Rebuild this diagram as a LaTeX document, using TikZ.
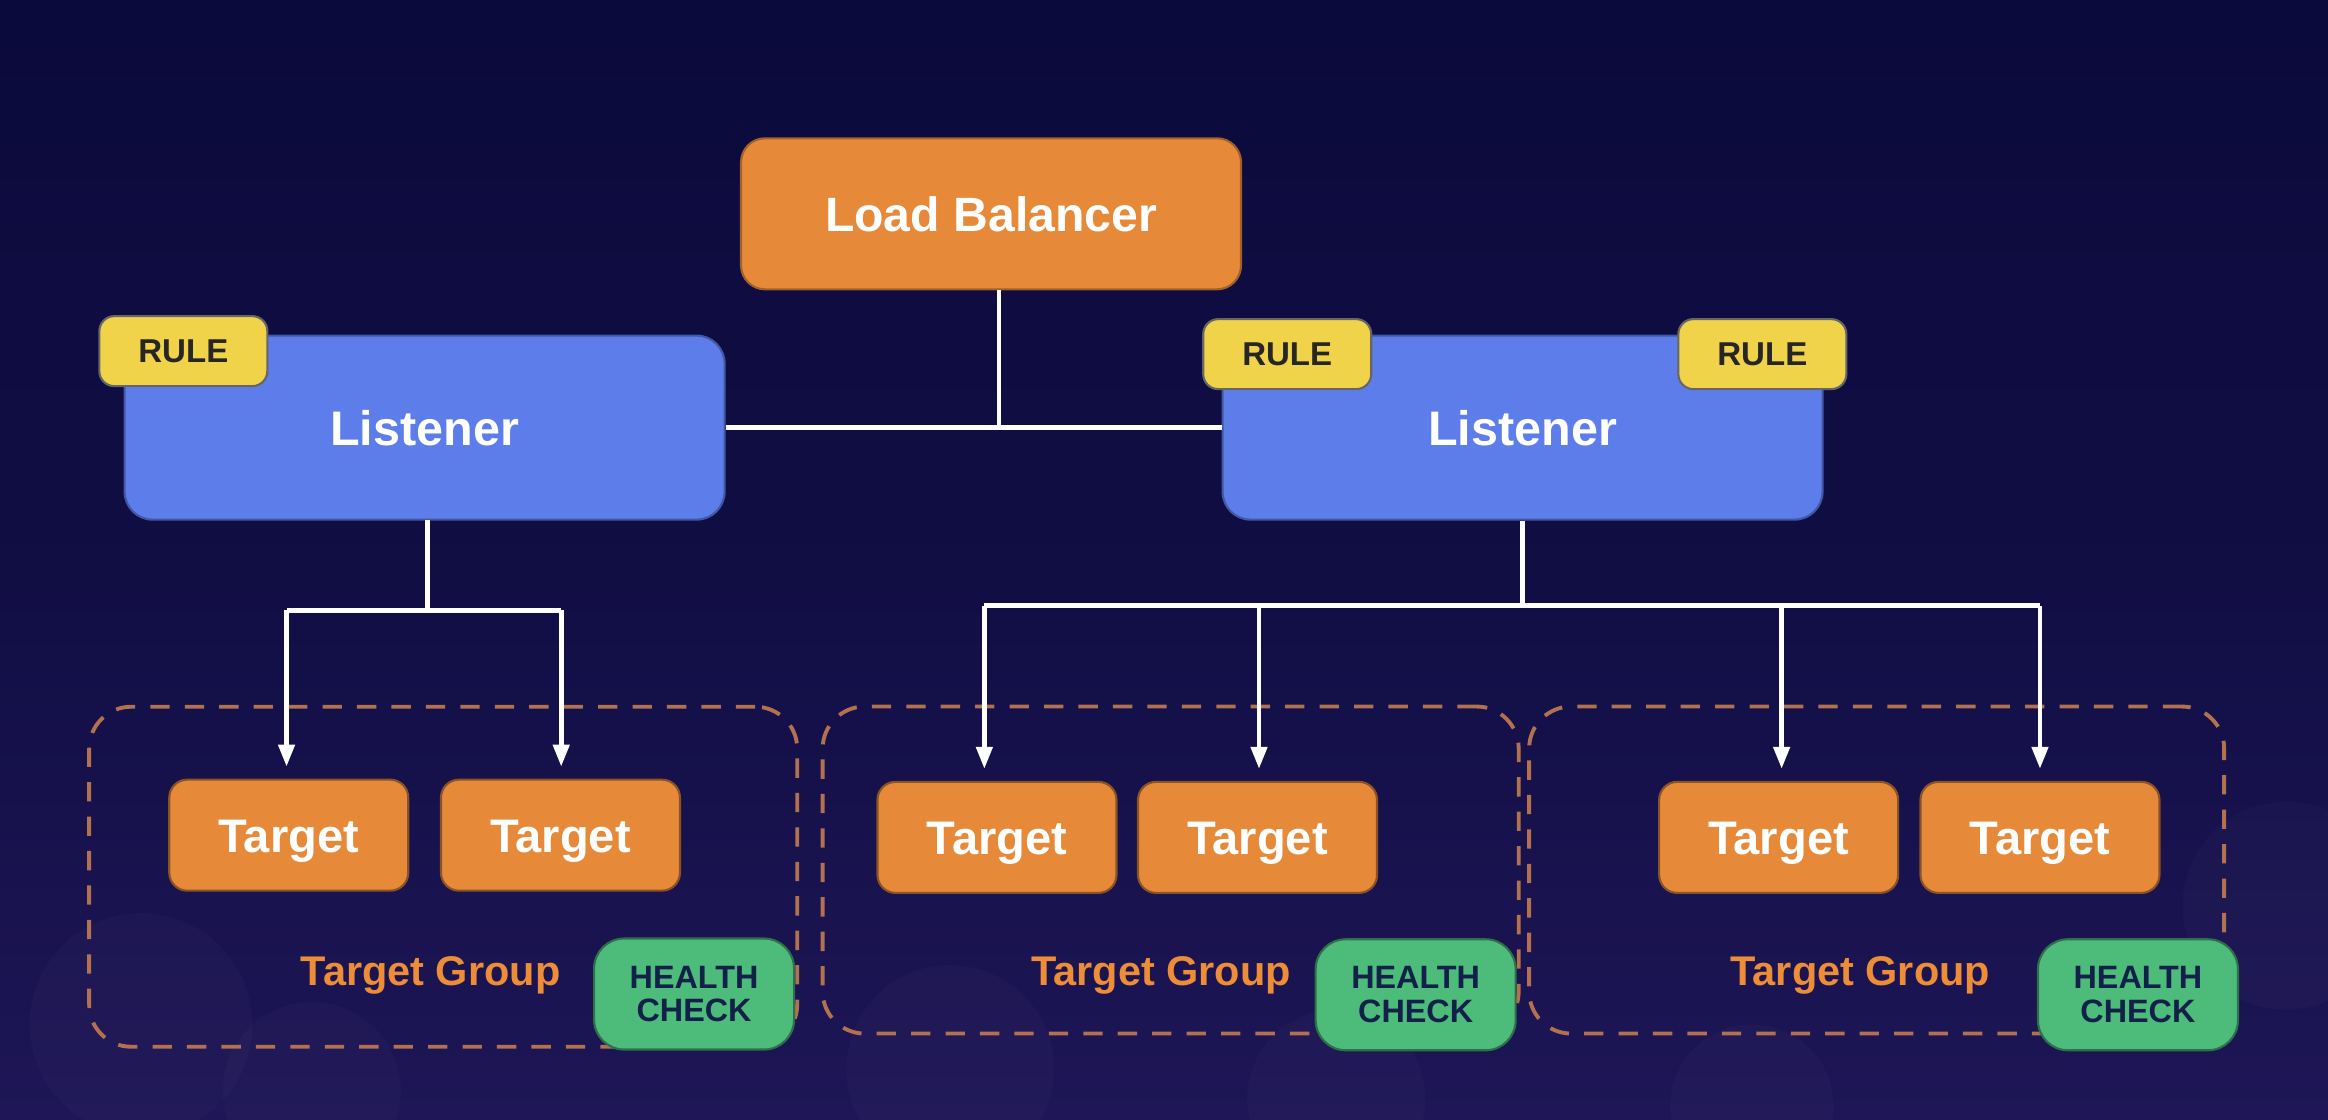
\documentclass[tikz,border=0pt]{standalone}
\usepackage{fontspec}
\setmainfont{Liberation Sans}
\usetikzlibrary{arrows.meta,calc}
\definecolor{bgtop}{HTML}{0B0A3C}
\definecolor{bgbot}{HTML}{1E1656}
\definecolor{lborange}{HTML}{E68A3A}
\definecolor{lsblue}{HTML}{5D7DEB}
\definecolor{ruleyel}{HTML}{F1D34A}
\definecolor{hcgreen}{HTML}{4DBB7A}
\definecolor{hctext}{HTML}{13204A}
\definecolor{dashcol}{HTML}{B2714F}
\definecolor{tgorange}{HTML}{EE8D37}
\tikzset{
  lbbox/.style={text height=9.8pt, text depth=0pt, fill=lborange, draw=lborange!70!black, line width=0.6pt, rounded corners=0.24cm,
    minimum width=5.0cm, minimum height=1.51cm, inner sep=0pt, text=white,
    font=\fontsize{13.7}{16}\selectfont\bfseries},
  lsbox/.style={text height=9.9pt, text depth=0pt, fill=lsblue, draw=lsblue!70!black, line width=0.6pt, rounded corners=0.28cm,
    minimum width=6.0cm, minimum height=1.84cm, inner sep=0pt, text=white,
    font=\fontsize{13.8}{16}\selectfont\bfseries},
  rulebox/.style={text height=6.7pt, text depth=0pt, fill=ruleyel, draw=black!60, line width=0.6pt, rounded corners=0.15cm,
    minimum width=1.68cm, minimum height=0.70cm, inner sep=0pt, text=black!85,
    font=\fontsize{9.4}{11}\selectfont\bfseries},
  tgtbox/.style={text height=9.6pt, text depth=0pt, fill=lborange, draw=lborange!60!black, line width=0.6pt, rounded corners=0.18cm,
    minimum width=2.39cm, minimum height=1.11cm, inner sep=0pt, text=white,
    font=\fontsize{13.4}{16}\selectfont\bfseries},
  hcbox/.style={fill=hcgreen, draw=hcgreen!60!black, line width=0.6pt, rounded corners=0.3cm,
    minimum width=2.0cm, minimum height=1.11cm, inner sep=0pt, text=hctext, align=center,
    font=\fontsize{9.2}{9.6}\selectfont\bfseries},
  grpbox/.style={draw=dashcol, line width=1.1pt, dash pattern=on 5.5pt off 4.3pt,
    rounded corners=0.42cm, inner sep=0pt, minimum height=3.3cm},
  grplabel/.style={text height=8.45pt, text depth=0pt, text=tgorange, inner sep=0pt, font=\fontsize{11.8}{14}\selectfont\bfseries},
  wline/.style={draw=white, line width=1.3pt},
  warrow/.style={draw=white, line width=1.3pt, -{Triangle[length=0.22cm, width=0.16cm]}, shorten >=0.12cm},
  blob/.style={fill=white, fill opacity=0.018}
}
\begin{document}
\begin{tikzpicture}[x=0.014847cm, y=-0.014847cm]
\useasboundingbox (0,0) rectangle (1568,754.35);
\shade[top color=bgtop, bottom color=bgbot, middle color=bgtop!70!bgbot] (0,0) rectangle (1568,754.35);
% faint background blobs
\fill[blob] (95,690) circle (75);
\fill[blob] (210,735) circle (60);
\fill[blob] (640,720) circle (70);
\fill[blob] (900,740) circle (60);
\fill[blob] (1180,745) circle (55);
\fill[blob] (1540,610) circle (70);

% dashed groups (drawn first)
\node[grpbox, minimum width=7.08cm, minimum height=3.40cm] (g1) at (298.5,590.5) {};
\node[grpbox, minimum width=6.96cm, minimum height=3.27cm] (g2) at (788.5,586) {};
\node[grpbox, minimum width=6.95cm, minimum height=3.27cm] (g3) at (1264,586) {};

% main nodes
\node[lbbox] (lb) at (667.5,144) {Load Balancer};
\node[lsbox] (ll) at (286,288) {Listener};
\node[lsbox] (lr) at (1025.5,288) {Listener};
\node[rulebox] (r1) at (123.5,236.5) {RULE};
\node[rulebox] (r2) at (867,238.5) {RULE};
\node[rulebox] (r3) at (1187,238.5) {RULE};

\node[tgtbox] (t1) at (194.5,562.5) {Target};
\node[tgtbox] (t2) at (377.5,562.5) {Target};
\node[tgtbox] (t3) at (671.5,564) {Target};
\node[tgtbox] (t4) at (847,564) {Target};
\node[tgtbox] (t5) at (1198,564) {Target};
\node[tgtbox] (t6) at (1374,564) {Target};

\node[grplabel] (gl1) at (290,654) {Target Group};
\node[grplabel] (gl2) at (782,654) {Target Group};
\node[grplabel] (gl3) at (1253,654) {Target Group};

\node[hcbox] (h1) at (467.5,669.5) {HEALTH\\CHECK};
\node[hcbox] (h2) at (953.5,670) {HEALTH\\CHECK};
\node[hcbox] (h3) at (1440,670) {HEALTH\\CHECK};

% connectors
\coordinate (lbs) at ($(lb.south)+(5.5,0)$);
\draw[wline] (ll.east) -- (lr.west);
\draw[wline] (lbs) -- (lbs |- ll.east);

\coordinate (lbar) at (288,411);
\coordinate (lls) at (288,350);
\draw[wline] (lls) -- (lbar);
\coordinate (a1) at (193,411);
\coordinate (a2) at (378,411);
\draw[wline] (a1) -- (a2);
\draw[warrow] (a1) -- (a1 |- t1.north);
\draw[warrow] (a2) -- (a2 |- t2.north);

\coordinate (rbar) at (1025.5,408);
\draw[wline] (lr.south) -- (rbar);
\coordinate (b1) at (663,408);
\coordinate (b2) at (848,408);
\coordinate (b3) at (1200,408);
\coordinate (b4) at (1374,408);
\draw[wline] (b1) -- (b4);
\draw[warrow] (b1) -- (b1 |- t3.north);
\draw[warrow] (b2) -- (b2 |- t4.north);
\draw[warrow] (b3) -- (b3 |- t5.north);
\draw[warrow] (b4) -- (b4 |- t6.north);
\end{tikzpicture}
\end{document}
